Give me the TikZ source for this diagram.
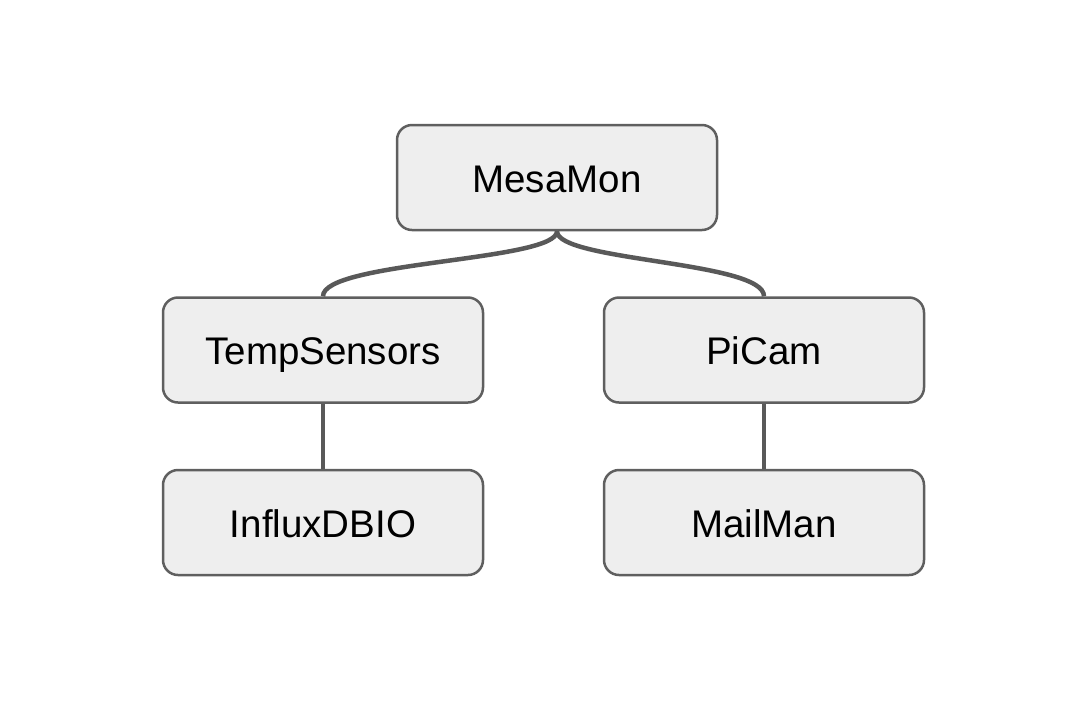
\documentclass[tikz,border=0pt]{standalone}
\usepackage{fontspec}
\setmainfont{Liberation Sans}
\definecolor{boxfill}{HTML}{EEEEEE}
\definecolor{boxline}{HTML}{5F5F5F}
\definecolor{conn}{HTML}{595959}
\begin{document}
\begin{tikzpicture}[x=1pt,y=-1pt,
  box/.style={draw=boxline, fill=boxfill, line width=2.5pt, rounded corners=15pt,
    minimum width=320pt, minimum height=105pt, inner sep=0pt,
    text height=29pt, text depth=0pt,
    font=\fontsize{38.5}{46}\selectfont},
  link/.style={draw=conn, line width=4.5pt}]
\useasboundingbox (0,0) rectangle (1082,724);
\node[box] (mesa) at (557,177.5) {MesaMon};
\node[box] (temp) at (323,350) {TempSensors};
\node[box] (picam) at (764,350) {PiCam};
\node[box] (influx) at (323,522.5) {InfluxDBIO};
\node[box] (mail) at (764,522.5) {MailMan};
\path[link] (mesa.south) .. controls ([yshift=-30pt]mesa.south) and ([yshift=35pt]temp.north) .. (temp.north);
\path[link] (mesa.south) .. controls ([yshift=-30pt]mesa.south) and ([yshift=35pt]picam.north) .. (picam.north);
\path[link] (temp.south) -- (influx.north);
\path[link] (picam.south) -- (mail.north);
\end{tikzpicture}
\end{document}
